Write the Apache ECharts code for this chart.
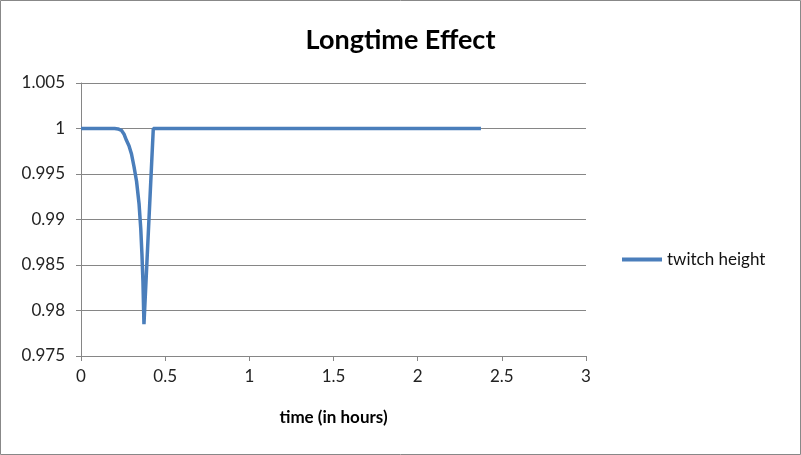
<!DOCTYPE html>
<html><head><meta charset="utf-8">
<script src="https://cdn.jsdelivr.net/npm/echarts@6/dist/echarts.min.js"></script>
<style>html,body{margin:0;padding:0;background:#fff}#c{width:801px;height:455px}</style>
</head><body><div id="c"></div>
<script>
const chartTitle = "Longtime Effect";
const seriesName = "twitch height";
const xAxisTitle = "time (in hours)";
const timeHours = [0, 0.2, 0.22, 0.24, 0.255, 0.27, 0.285, 0.3, 0.315, 0.33, 0.345, 0.355, 0.362, 0.368, 0.374, 0.4295, 2.376];
const twitchHeight = [1, 1, 0.99995, 0.9998, 0.9994, 0.9987, 0.9981, 0.9972, 0.9958, 0.9942, 0.9917, 0.9890, 0.9862, 0.9832, 0.9785, 1, 1];

const font = 'Lato, "Open Sans", sans-serif';
const chart = echarts.init(document.getElementById('c'));
chart.setOption({
  animation: false,
  backgroundColor: '#fff',
  graphic: [{type:'rect', shape:{x:0.5,y:0.5,width:800,height:454}, style:{fill:'none', stroke:'#888', lineWidth:1}, silent:true}],
  title: {text: chartTitle, left: 'center', top: 22, textStyle:{fontFamily:font, fontSize:27, fontWeight:'bold', color:'#000'}},
  legend: {left: 617, top: 246, icon: 'rect', itemWidth: 40, itemHeight: 4, itemGap: 4,
    textStyle:{fontFamily:font, fontSize:17, color:'#111'}, data:[seriesName]},
  grid: {left: 81, right: 215, top: 83, bottom: 99, containLabel:false},
  xAxis: {type:'value', min:0, max:3, interval:0.5, name:xAxisTitle, nameLocation:'middle', nameGap:53,
    nameTextStyle:{fontFamily:font, fontSize:17, fontWeight:'bold', color:'#000'},
    axisLine:{lineStyle:{color:'#868686'}}, axisTick:{show:true, length:5, lineStyle:{color:'#868686'}},
    axisLabel:{fontFamily:font, fontSize:17, color:'#222', margin:12}, splitLine:{show:false}},
  yAxis: {type:'value', min:0.975, max:1.005, interval:0.005,
    axisLine:{show:true, lineStyle:{color:'#868686'}}, axisTick:{show:true, length:5, lineStyle:{color:'#868686'}},
    axisLabel:{fontFamily:font, fontSize:17, color:'#222', margin:16, formatter: v => String(+v.toFixed(3))},
    splitLine:{show:true, lineStyle:{color:'#868686', width:1}}},
  series: [{name: seriesName, type:'line', showSymbol:false, symbol:'none', smooth:false,
    lineStyle:{color:'#4a7ebb', width:3.5}, itemStyle:{color:'#4a7ebb'},
    data: timeHours.map((t,i)=>[t, twitchHeight[i]])}]
});
</script></body></html>
